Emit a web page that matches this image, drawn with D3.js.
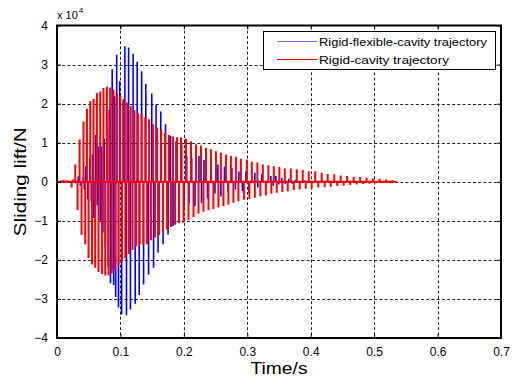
<!DOCTYPE html>
<html>
<head>
<meta charset="utf-8">
<script src="https://cdn.jsdelivr.net/npm/d3@7"></script>
<style>
  body { margin: 0; background: #fff; }
  svg { display: block; font-family: "Liberation Sans", Arial, sans-serif; }
</style>
</head>
<body>
<svg id="chart" width="513" height="378"></svg>
<script>
// sliding lift (values in x 10^4 N)
var redTime = [0, 0.0107, 0.0154, 0.0230, 0.0253, 0.0288, 0.0324, 0.0356, 0.0387, 0.0418, 0.0445,
  0.0472, 0.0497, 0.0524, 0.0551, 0.0576, 0.0602, 0.0629, 0.0654, 0.0681, 0.0708,
  0.0733, 0.0760, 0.0787, 0.0812, 0.0838, 0.0865, 0.0890, 0.0917, 0.0944, 0.0971,
  0.0997, 0.1024, 0.1051, 0.1078, 0.1106, 0.1134, 0.1162, 0.1191, 0.1219, 0.1247,
  0.1276, 0.1304, 0.1332, 0.1361, 0.1391, 0.1420, 0.1452, 0.1483, 0.1515, 0.1546,
  0.1578, 0.1609, 0.1641, 0.1672, 0.1704, 0.1735, 0.1766, 0.1798, 0.1829, 0.1861,
  0.1892, 0.1924, 0.1955, 0.1995, 0.2034, 0.2073, 0.2113, 0.2152, 0.2191, 0.2231,
  0.2270, 0.2309, 0.2349, 0.2388, 0.2427, 0.2466, 0.2506, 0.2545, 0.2584, 0.2624,
  0.2663, 0.2702, 0.2742, 0.2781, 0.2820, 0.2860, 0.2899, 0.2946, 0.2993, 0.3033,
  0.3072, 0.3119, 0.3159, 0.3206, 0.3245, 0.3292, 0.3332, 0.3379, 0.3418, 0.3465,
  0.3505, 0.3552, 0.3591, 0.3638, 0.3686, 0.3733, 0.3780, 0.3827, 0.3874, 0.3922,
  0.3969, 0.4016, 0.4071, 0.4118, 0.4173, 0.4220, 0.4268, 0.4315, 0.4370, 0.4417,
  0.4472, 0.4519, 0.4574, 0.4622, 0.4677, 0.4724, 0.4779, 0.4826, 0.4881, 0.4928,
  0.4983, 0.5031, 0.5086, 0.5133, 0.5188, 0.5235, 0.5290, 0.5321, 0.5353];
var redLift = [0, 0.05, 0.04, -0.15, 0.06, 0.44, -0.72, 1.08, -1.36, 1.54, -1.6,
  1.87, -1.95, 2.06, -2.12, 2.12, -2.2, 2.27, -2.31, 2.31, -2.36,
  2.4, -2.4, 2.44, -2.4, 2.41, -2.34, 2.36, -2.25, 2.27, -2.14,
  2.2, -2.04, 2.12, -1.95, 2.03, -1.85, 1.93, -1.75, 1.84, -1.66,
  1.76, -1.6, 1.72, -1.62, 1.65, -1.6, 1.6, -1.5, 1.47, -1.43,
  1.38, -1.37, 1.34, -1.3, 1.25, -1.22, 1.2, -1.16, 1.16, -1.1,
  1.14, -1.06, 1.13, -1.05, 1.1, -0.98, 1.04, -0.9, 0.96, -0.82,
  0.93, -0.77, 0.87, -0.73, 0.83, -0.7, 0.78, -0.66, 0.74, -0.62,
  0.7, -0.58, 0.66, -0.54, 0.64, -0.5, 0.59, -0.46, 0.57, -0.44,
  0.51, -0.41, 0.49, -0.37, 0.44, -0.35, 0.42, -0.31, 0.4, -0.28,
  0.38, -0.26, 0.34, -0.24, 0.34, -0.21, 0.32, -0.2, 0.3, -0.18,
  0.27, -0.18, 0.27, -0.15, 0.23, -0.14, 0.2, -0.13, 0.19, -0.11,
  0.16, -0.1, 0.15, -0.085, 0.13, -0.07, 0.12, -0.06, 0.1, -0.05,
  0.085, -0.04, 0.08, -0.03, 0.06, -0.02, 0.04, -0.01, 0];

var blueTime = [0, 0.0068, 0.0099, 0.0146, 0.0256, 0.0288, 0.0335, 0.0367, 0.0414, 0.0429,
  0.0453, 0.0484, 0.0516, 0.0540, 0.0560, 0.0582, 0.0610, 0.0634, 0.0654, 0.0681,
  0.0705, 0.0724, 0.0744, 0.0764, 0.0783, 0.0807, 0.0823, 0.0843, 0.0870, 0.0893,
  0.0909, 0.0925, 0.0941, 0.0969, 0.0988, 0.1019, 0.1043, 0.1070, 0.1095, 0.1129,
  0.1158, 0.1200, 0.1233, 0.1264, 0.1296, 0.1334, 0.1365, 0.1400, 0.1444, 0.1494,
  0.1523, 0.1562, 0.1593, 0.1636, 0.1672, 0.1711, 0.1751, 0.1790, 0.1829, 0.1877,
  0.1924, 0.1966, 0.2002, 0.2045, 0.2081, 0.2124, 0.2176, 0.2238, 0.2278, 0.2317,
  0.2372, 0.2427, 0.2490, 0.2537, 0.2584, 0.2640, 0.2695, 0.2757, 0.2813, 0.2868,
  0.2923, 0.2978, 0.3025, 0.3119, 0.3166, 0.3229, 0.3292, 0.3371, 0.3410, 0.3450,
  0.3497, 0.3544, 0.3599, 0.3654, 0.3709, 0.3764, 0.3827, 0.3906, 0.3985, 0.4079,
  0.4173, 0.4299, 0.4456, 0.4613, 0.4771];
var blueLift = [0, 0.03, -0.02, 0.02, 0.03, -0.04, 0.14, -0.1, 0.12, -0.2,
  0.4, -0.45, 0.6, -0.5, 0.7, -0.93, 1.2, -0.6, 0.9, -1.0,
  0.9, -1.3, 1.1, -1.66, 1.38, -2.16, 1.85, -2.6, 2.88, -2.64,
  2.19, -2.95, 3.25, -3.22, 2.57, -3.4, 2.06, 3.47, -3.42, 3.44,
  -3.27, 3.28, -3.12, 3.07, -2.9, 2.83, -2.63, 2.5, -2.38, 2.26,
  -2.2, 1.97, -1.82, 1.8, -1.6, 1.47, -1.35, 1.17, -1.13, 1.04,
  -0.96, 0.95, -0.7, 0.66, -0.55, 0.6, -0.63, 0.66, -0.55, 0.56,
  -0.42, 0.44, -0.3, 0.44, -0.38, 0.39, -0.25, 0.35, -0.2, 0.26,
  -0.24, 0.26, -0.29, 0.23, -0.15, 0.19, -0.1, 0.15, -0.1, 0.15,
  -0.07, 0.1, -0.06, 0.08, -0.05, 0.06, -0.04, 0.04, -0.03, 0.03,
  -0.02, 0.02, -0.01, 0.01, 0];

var xTicks = [0, 0.1, 0.2, 0.3, 0.4, 0.5, 0.6, 0.7];
var yTicks = [-4, -3, -2, -1, 0, 1, 2, 3, 4];
var seriesNames = ["Rigid-flexible-cavity trajectory", "Rigid-cavity trajectory"];

var colors = {blue: "#0000ff", red: "#ff0000"};

var svg = d3.select("#chart");
var pLeft = 57, pRight = 501, pTop = 25.5, pBottom = 338;

var x = d3.scaleLinear().domain([0, 0.7]).range([pLeft, pRight]);
var y = d3.scaleLinear().domain([-4, 4]).range([pBottom, pTop]);

svg.append("clipPath").attr("id", "plotclip")
  .append("rect")
    .attr("x", pLeft).attr("y", pTop)
    .attr("width", pRight - pLeft).attr("height", pBottom - pTop);

// dashed grid
var grid = svg.append("g").attr("stroke", "#222").attr("stroke-width", 1)
    .attr("stroke-dasharray", "3,2.2");
grid.selectAll(".gx")
  .data(xTicks.filter(function(d) { return d > 0 && d < 0.7; }))
  .enter().append("line")
    .attr("x1", function(d) { return Math.round(x(d)) + 0.5; })
    .attr("x2", function(d) { return Math.round(x(d)) + 0.5; })
    .attr("y1", pTop).attr("y2", pBottom);
grid.selectAll(".gy")
  .data(yTicks.filter(function(d) { return d > -4 && d < 4; }))
  .enter().append("line")
    .attr("y1", function(d) { return Math.round(y(d)) + 0.5; })
    .attr("y2", function(d) { return Math.round(y(d)) + 0.5; })
    .attr("x1", pLeft).attr("x2", pRight);

// each peak is a sharp pulse off the zero line
function pulses(times, vals) {
  var pts = [];
  times.forEach(function(t, i) {
    pts.push([t, 0]);
    pts.push([t, vals[i]]);
    pts.push([t, 0]);
  });
  return pts;
}

var line = d3.line()
    .x(function(d) { return x(d[0]); })
    .y(function(d) { return y(d[1]); });

var plot = svg.append("g").attr("clip-path", "url(#plotclip)");
plot.append("path")
    .attr("d", line(pulses(blueTime, blueLift)))
    .attr("fill", "none")
    .attr("stroke", colors.blue)
    .attr("stroke-width", 1.6);
plot.append("path")
    .attr("d", line(pulses(redTime, redLift)))
    .attr("fill", "none")
    .attr("stroke", colors.red)
    .attr("stroke-width", 2);

// axes: ticks pointing inward on all four sides
var xAxisB = d3.axisBottom(x).tickValues(xTicks).tickSizeInner(-4).tickSizeOuter(0)
    .tickPadding(9).tickFormat(function(d) { return d === 0 ? "0" : d3.format(".1f")(d); });
var xAxisT = d3.axisTop(x).tickValues(xTicks).tickSizeInner(-4).tickSizeOuter(0).tickFormat("");
var yAxisL = d3.axisLeft(y).tickValues(yTicks).tickSizeInner(-4).tickSizeOuter(0)
    .tickPadding(9).tickFormat(d3.format("d"));
var yAxisR = d3.axisRight(y).tickValues(yTicks).tickSizeInner(-4).tickSizeOuter(0).tickFormat("");

function styleAxis(g) {
  g.select(".domain").remove();
  g.selectAll("line").attr("stroke", "#000");
  g.selectAll("text").attr("fill", "#000").attr("font-size", 12)
    .attr("font-family", "Liberation Sans, Arial, sans-serif");
}

svg.append("g").attr("transform", "translate(0," + pBottom + ")").call(xAxisB).call(styleAxis);
svg.append("g").attr("transform", "translate(0," + pTop + ")").call(xAxisT).call(styleAxis);
svg.append("g").attr("transform", "translate(" + pLeft + ",0)").call(yAxisL).call(styleAxis);
svg.append("g").attr("transform", "translate(" + pRight + ",0)").call(yAxisR).call(styleAxis);

// frame
svg.append("rect")
    .attr("x", pLeft).attr("y", pTop)
    .attr("width", pRight - pLeft).attr("height", pBottom - pTop)
    .attr("fill", "none").attr("stroke", "#000").attr("stroke-width", 2);

// exponent label
var expo = svg.append("text").attr("x", pLeft).attr("y", 19).attr("font-size", 11).attr("fill", "#000");
expo.append("tspan").text("x 10");
expo.append("tspan").attr("font-size", 8).attr("dy", -6).attr("dx", 1).text("4");

// axis titles
svg.append("text")
    .attr("x", (pLeft + pRight) / 2).attr("y", 373.5)
    .attr("text-anchor", "middle").attr("font-size", 16)
    .attr("textLength", 57).attr("lengthAdjust", "spacingAndGlyphs")
    .text("Time/s");
svg.append("text")
    .attr("transform", "translate(26," + y(0) + ") rotate(-90)")
    .attr("text-anchor", "middle").attr("font-size", 16)
    .attr("textLength", 109).attr("lengthAdjust", "spacingAndGlyphs")
    .text("Sliding lift/N");

// legend
var legend = svg.append("g");
legend.append("rect")
    .attr("x", 263.5).attr("y", 31.5).attr("width", 232).attr("height", 38)
    .attr("fill", "#fff").attr("stroke", "#000").attr("stroke-width", 1);
var legendColors = ["#6f6fff", colors.red];
var legendWidths = [168, 130];
seriesNames.forEach(function(name, i) {
  var ly = 41.5 + i * 18;
  legend.append("line")
      .attr("x1", 277).attr("x2", 317).attr("y1", ly).attr("y2", ly)
      .attr("stroke", legendColors[i]).attr("stroke-width", 1.2);
  legend.append("text")
      .attr("x", 319).attr("y", ly + 4.2)
      .attr("font-size", 11)
      .attr("textLength", legendWidths[i]).attr("lengthAdjust", "spacingAndGlyphs")
      .text(name);
});
</script>
</body>
</html>
